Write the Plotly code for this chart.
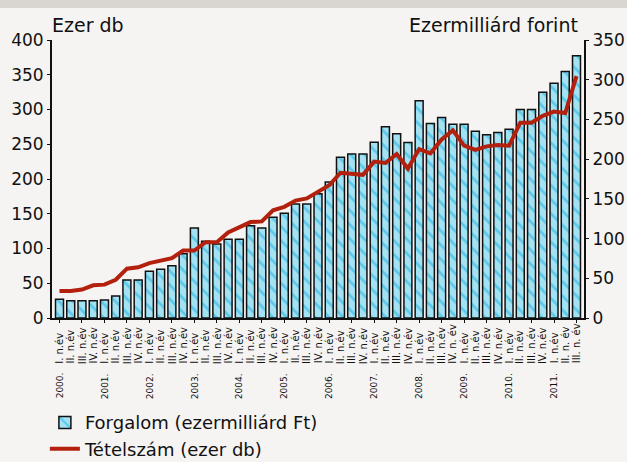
import plotly.graph_objects as go

years = ["2000.", "2001.", "2002.", "2003.", "2004.", "2005.",
         "2006.", "2007.", "2008.", "2009.", "2010.", "2011."]
quarters = ["I", "II", "III", "IV"]

quarter_labels = (["I. n.év", "II. n.év", "III. n.év", "IV. n.év"] * 8
                  + ["I. n.év", "II. n.év", "III. n.év", "IV. n. év"]
                  + ["I. n.év", "II. n.év", "III. n.év", "IV. n.év"] * 2
                  + ["I. n.év", "II. n. év", "III. n. év"])

# Forgalom (ezermilliárd Ft) - right axis
forgalom = [23.5, 21.8, 21.8, 21.8, 22.7, 27.7, 47.8, 47.8,
            58.8, 61.3, 65.9, 81.0, 113.3, 96.5, 93.2, 99.0,
            99.0, 116.2, 113.3, 126.8, 131.8, 143.5, 143.5, 156.5,
            171.2, 202.3, 206.5, 206.5, 221.2, 240.9, 232.0, 220.8,
            273.6, 245.0, 252.4, 244.0, 244.0, 235.2, 230.8, 233.6,
            237.5, 262.5, 262.5, 284.1, 295.4, 310.3, 330.2]

# Tételszám (ezer db) - left axis
tetelszam = [39, 39, 41, 47, 48, 55, 71, 73,
             79, 82, 86, 97, 97, 109, 109, 123,
             131, 138, 139, 155, 160, 169, 172, 182,
             191, 209, 207, 206, 225, 223, 236, 215,
             243, 237, 257, 270, 248, 242, 247, 249,
             248, 281, 281, 291, 297, 295, 348]

left_ticks = [0, 50, 100, 150, 200, 250, 300, 350, 400]
right_ticks = [0, 50, 100, 150, 200, 250, 300, 350]

periods = [f"{years[i // 4]} {quarters[i % 4]}" for i in range(len(forgalom))]

MAIN = "DejaVu Sans, Verdana, sans-serif"
BG = "#f5f4f2"
INK = "#111111"

fig = go.Figure()

fig.add_trace(go.Bar(
    x=periods, y=forgalom, yaxis="y",
    name="Forgalom (ezermilliárd Ft)",
    marker=dict(color="#a3e2f3",
                line=dict(color=INK, width=1.5),
                pattern=dict(shape="\\", fgcolor="#19aee0", bgcolor="#a3e2f3",
                             size=10, solidity=0.28)),
))

fig.add_trace(go.Scatter(
    x=periods, y=tetelszam, yaxis="y2", mode="lines",
    name="Tételszám (ezer db)",
    line=dict(color="#b3200e", width=4),
))

annotations = []
for i, lab in enumerate(quarter_labels):
    annotations.append(dict(
        x=periods[i], y=-0.172, xref="x", yref="paper",
        text=lab, textangle=-90, showarrow=False,
        xanchor="center", yanchor="bottom",
        font=dict(family=MAIN, size=10, color=INK)))
for k, yr in enumerate(years):
    annotations.append(dict(
        x=periods[4 * k], y=-0.298, xref="x", yref="paper",
        text=yr, textangle=-90, showarrow=False,
        xanchor="center", yanchor="bottom",
        font=dict(family=MAIN, size=9, color=INK)))

annotations.append(dict(x=-0.004, y=1.055, xref="paper", yref="paper",
                        text="Ezer db", showarrow=False, xanchor="left", yanchor="middle",
                        font=dict(family=MAIN, size=19, color=INK)))
annotations.append(dict(x=0.992, y=1.055, xref="paper", yref="paper",
                        text="Ezermilliárd forint", showarrow=False, xanchor="right",
                        yanchor="middle",
                        font=dict(family=MAIN, size=19, color=INK)))

fig.update_layout(
    width=627, height=462,
    margin=dict(l=52, r=43, t=40, b=144, autoexpand=False),
    paper_bgcolor=BG, plot_bgcolor=BG,
    bargap=0.29,
    showlegend=True,
    legend=dict(x=0.0716, y=0.125, xref="container", yref="container",
                xanchor="left", yanchor="top",
                orientation="v", bgcolor="rgba(0,0,0,0)",
                font=dict(family=MAIN, size=18, color=INK),
                tracegroupgap=0, itemwidth=30),
    xaxis=dict(type="category", showticklabels=False, showline=True,
               linecolor=INK, linewidth=2, ticks="outside", ticklen=3,
               tickcolor=INK, showgrid=False, zeroline=False),
    yaxis=dict(range=[0, 350], side="right", tickvals=right_ticks,
               showline=True, linecolor=INK, linewidth=2,
               ticks="outside", ticklen=3, tickcolor=INK,
               showgrid=False, zeroline=False,
               tickfont=dict(family=MAIN, size=17, color=INK)),
    yaxis2=dict(range=[0, 400], side="left", overlaying="y", tickvals=left_ticks,
                showline=True, linecolor=INK, linewidth=2,
                ticks="outside", ticklen=3, tickcolor=INK,
                showgrid=False, zeroline=False,
                tickfont=dict(family=MAIN, size=17, color=INK)),
    annotations=annotations,
    shapes=[dict(type="rect", xref="paper", yref="paper",
                 x0=-0.2, x1=1.2, y0=1.115, y1=1.3,
                 fillcolor="#d9d5d0", line=dict(width=0), layer="above")],
)

fig.write_html("out.html",
               config={"displayModeBar": False},
               post_script="document.body.style.margin='0px';"
                           "document.body.style.background='" + BG + "';")
